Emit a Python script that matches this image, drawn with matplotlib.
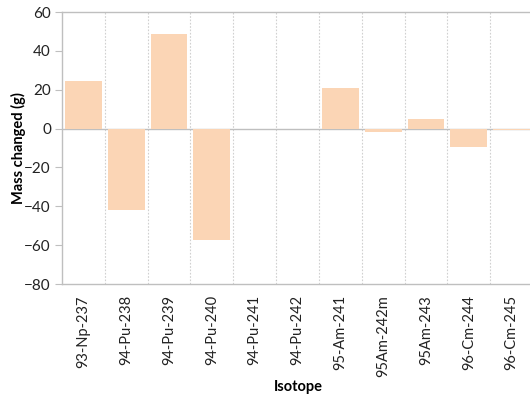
import matplotlib
matplotlib.use("Agg")
import matplotlib.pyplot as plt
import numpy as np

isotopes = ["93-Np-237", "94-Pu-238", "94-Pu-239", "94-Pu-240", "94-Pu-241", "94-Pu-242",
            "95-Am-241", "95Am-242m", "95Am-243", "96-Cm-244", "96-Cm-245"]
mass_changed = [24.5, -41.9, 48.7, -57.3, 0.0, 0.0, 20.7, -1.6, 4.8, -9.5, -0.9]
yticks = [-80, -60, -40, -20, 0, 20, 40, 60]

plt.rcParams['font.family'] = ['Lato', 'DejaVu Sans']
fig = plt.figure(figsize=(5.30, 3.96), dpi=100)
ax = fig.add_axes([62/530, 1-284/396, 471/530, 272/396])

x = np.arange(len(isotopes))
ax.bar(x, mass_changed, width=0.86, color='#FBD5B5', zorder=3)
ax.axhline(0, color='#BFBFBF', lw=1, zorder=2)
for b in np.arange(len(isotopes) - 1) + 0.5:
    ax.axvline(b, color='#D0D0D0', lw=0.8, ls=(0, (1.5, 1.5)), zorder=1)

ax.set_xlim(-0.5, len(isotopes) - 0.5)
ax.set_ylim(-80, 60)
ax.set_yticks(yticks)
ax.set_xticks(x)
ax.set_xticklabels(isotopes, rotation=90, fontsize=10.5, color='#222222')
ax.tick_params(axis='y', labelsize=11, colors='#222222', length=5, color='#BFBFBF', pad=3)
ax.tick_params(axis='x', length=0, pad=8)
for s in ['left', 'bottom', 'top']:
    ax.spines[s].set_color('#BFBFBF')
    ax.spines[s].set_linewidth(1)
ax.spines['right'].set_visible(False)

fig.text(18/530, 1-148/396, 'Mass changed (g)', rotation=90, fontsize=10.5,
         fontweight='bold', ha='center', va='center')
fig.text(298/530, 1-387/396, 'Isotope', fontsize=10.5,
         fontweight='bold', ha='center', va='center')
fig.savefig('out.png', dpi=100)
